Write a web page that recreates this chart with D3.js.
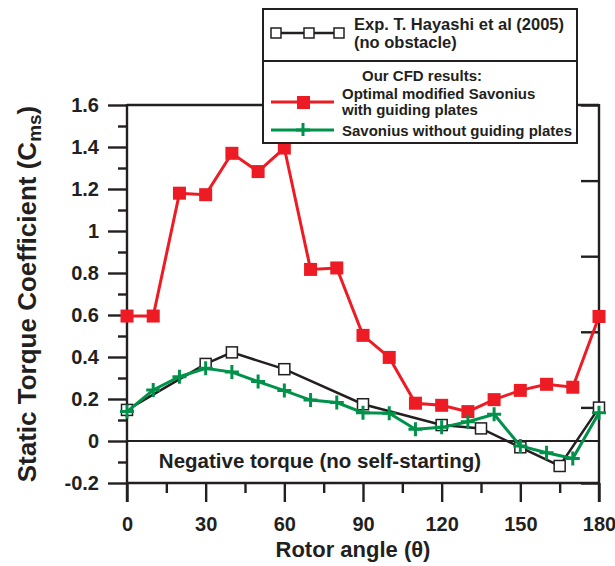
<!DOCTYPE html>
<html><head><meta charset="utf-8">
<script src="https://cdn.jsdelivr.net/npm/d3@7/dist/d3.min.js"></script>
<style>
body{margin:0;background:#fff;}
text{font-family:"Liberation Sans",Arial,sans-serif;font-weight:bold;fill:#231f20;}
</style></head>
<body><svg id="c" width="615" height="566"></svg>
<script>
const angles = [0,10,20,30,40,50,60,70,80,90,100,110,120,130,140,150,160,170,180];
const optimal = [0.595,0.595,1.18,1.173,1.37,1.283,1.395,0.817,0.824,0.503,0.398,0.18,0.17,0.14,0.197,0.241,0.27,0.256,0.593];
const withoutPlates = [0.14,0.243,0.306,0.346,0.328,0.283,0.24,0.195,0.183,0.135,0.132,0.056,0.065,0.092,0.127,-0.024,-0.056,-0.083,0.135];
const expAngles = [0,30,40,60,90,120,135,150,165,180];
const expValues = [0.148,0.367,0.422,0.342,0.175,0.076,0.06,-0.03,-0.119,0.159];
const xMajor = [0,30,60,90,120,150,180];
const xMinor = [15,45,75,105,135,165];
const yMajor = [-0.2,0,0.2,0.4,0.6,0.8,1,1.2,1.4,1.6];
const yMajorLabels = ["-0.2","0","0.2","0.4","0.6","0.8","1","1.2","1.4","1.6"];
const yMinor = [-0.1,0.1,0.3,0.5,0.7,0.9,1.1,1.3,1.5];
const rightTicks = [-0.2,0.16,0.52,0.88,1.24,1.6];

const ink = "#231f20", red = "#ed1c24", green = "#00924a";
const svg = d3.select("#c");
const x = d3.scaleLinear().domain([0,180]).range([127,599]);
const y = d3.scaleLinear().domain([-0.2,1.6]).range([483,105]);

function styleAxis(g){
  g.select(".domain").remove();
  g.selectAll("line").attr("stroke",ink).attr("stroke-width",2.4);
  g.selectAll("text").style("font-size","20px").attr("fill",ink);
}
// minor ticks
svg.append("g").attr("transform","translate(127,0)")
  .call(d3.axisLeft(y).tickValues(yMinor).tickSize(9).tickFormat(""))
  .call(styleAxis);
svg.append("g").attr("transform","translate(0,483)")
  .call(d3.axisBottom(x).tickValues(xMinor).tickSize(10).tickFormat(""))
  .call(styleAxis);
// major ticks
svg.append("g").attr("transform","translate(127,0)")
  .call(d3.axisLeft(y).tickValues(yMajor).tickSize(19).tickPadding(9).tickFormat((d,i)=>yMajorLabels[i]))
  .call(styleAxis);
svg.append("g").attr("transform","translate(0,483)")
  .call(d3.axisBottom(x).tickValues(xMajor).tickSize(19).tickPadding(15).tickFormat(d3.format("d")))
  .call(styleAxis);
svg.append("g").attr("transform","translate(599,0)")
  .call(d3.axisRight(y).tickValues(rightTicks).tickSize(-18).tickFormat(""))
  .call(styleAxis);

// frame
const frame = svg.append("g").attr("stroke",ink).attr("stroke-width",2.4).attr("fill","none");
frame.append("line").attr("x1",x(0)).attr("x2",x(0)).attr("y1",y(1.6)-1).attr("y2",y(-0.2)+19);
frame.append("line").attr("x1",x(180)).attr("x2",x(180)).attr("y1",y(1.6)-1).attr("y2",y(-0.2)+19);
frame.append("line").attr("x1",x(0)).attr("x2",x(180)).attr("y1",y(1.6)).attr("y2",y(1.6));
frame.append("line").attr("x1",x(0)).attr("x2",x(180)).attr("y1",y(-0.2)).attr("y2",y(-0.2));
frame.append("line").attr("x1",x(0)).attr("x2",x(180)).attr("y1",y(0)).attr("y2",y(0)).attr("stroke-width",2);

svg.append("text").attr("x",320).attr("y",468).attr("text-anchor","middle")
  .style("font-size","20.5px").text("Negative torque (no self-starting)");

// series
const lineGen = (xs) => d3.line().x((d,i)=>x(xs[i])).y(d=>y(d));
// red
svg.append("path").datum(optimal).attr("d",lineGen(angles)).attr("fill","none").attr("stroke",red).attr("stroke-width",3);
svg.append("g").selectAll("rect").data(optimal).join("rect")
  .attr("x",(d,i)=>x(angles[i])-6.5).attr("y",d=>y(d)-6.5).attr("width",13).attr("height",13).attr("fill",red);
// black
svg.append("path").datum(expValues).attr("d",lineGen(expAngles)).attr("fill","none").attr("stroke",ink).attr("stroke-width",2.5);
svg.append("g").selectAll("rect").data(expValues).join("rect")
  .attr("x",(d,i)=>x(expAngles[i])-5.5).attr("y",d=>y(d)-5.5).attr("width",11).attr("height",11)
  .attr("fill","#fff").attr("stroke",ink).attr("stroke-width",1.5);
// green
svg.append("path").datum(withoutPlates).attr("d",lineGen(angles)).attr("fill","none").attr("stroke",green).attr("stroke-width",3);
svg.append("g").selectAll("path.p").data(withoutPlates).join("path").attr("class","p")
  .attr("d",(d,i)=>{const cx=x(angles[i]),cy=y(d);return `M${cx-7},${cy}H${cx+7}M${cx},${cy-7}V${cy+7}`;})
  .attr("stroke",green).attr("stroke-width",3).attr("fill","none");

// axis titles
svg.append("text").attr("x",353).attr("y",557).attr("text-anchor","middle").style("font-size","22px")
  .text("Rotor angle (θ)");
const yt = svg.append("text").attr("transform","translate(36,294) rotate(-90)").attr("text-anchor","middle").style("font-size","26px");
yt.append("tspan").text("Static Torque Coefficient (C");
yt.append("tspan").attr("dy",5).style("font-size","19px").text("ms");
yt.append("tspan").attr("dy",-5).text(")");

// legend
const lg = svg.append("g");
lg.append("rect").attr("x",263).attr("y",9).attr("width",314).attr("height",134).attr("fill","#fff").attr("stroke",ink).attr("stroke-width",2);
lg.append("line").attr("x1",263).attr("x2",577).attr("y1",61).attr("y2",61).attr("stroke",ink).attr("stroke-width",2);
lg.append("line").attr("x1",273).attr("x2",340).attr("y1",33).attr("y2",33).attr("stroke",ink).attr("stroke-width",2.5);
lg.selectAll("rect.lb").data([276,309,339]).join("rect").attr("class","lb")
  .attr("x",d=>d-5).attr("y",28).attr("width",10).attr("height",10).attr("fill","#fff").attr("stroke",ink).attr("stroke-width",1.5);
lg.append("text").attr("x",354).attr("y",30).style("font-size","16.5px").text("Exp. T. Hayashi et al (2005)");
lg.append("text").attr("x",354).attr("y",48).style("font-size","16.5px").text("(no obstacle)");
lg.append("text").attr("x",422).attr("y",81).attr("text-anchor","middle").style("font-size","15px").text("Our CFD results:");
lg.append("line").attr("x1",271).attr("x2",334).attr("y1",102).attr("y2",102).attr("stroke",red).attr("stroke-width",3);
lg.append("rect").attr("x",297).attr("y",96).attr("width",13).attr("height",13).attr("fill",red);
lg.append("text").attr("x",342).attr("y",99).style("font-size","15px").text("Optimal modified Savonius");
lg.append("text").attr("x",342).attr("y",115).style("font-size","15px").text("with guiding plates");
lg.append("line").attr("x1",271).attr("x2",334).attr("y1",130).attr("y2",130).attr("stroke",green).attr("stroke-width",3);
lg.append("path").attr("d","M296,130H310M303,123V136").attr("stroke",green).attr("stroke-width",3);
lg.append("text").attr("x",342).attr("y",136).style("font-size","15px").text("Savonius without guiding plates");
</script></body></html>
